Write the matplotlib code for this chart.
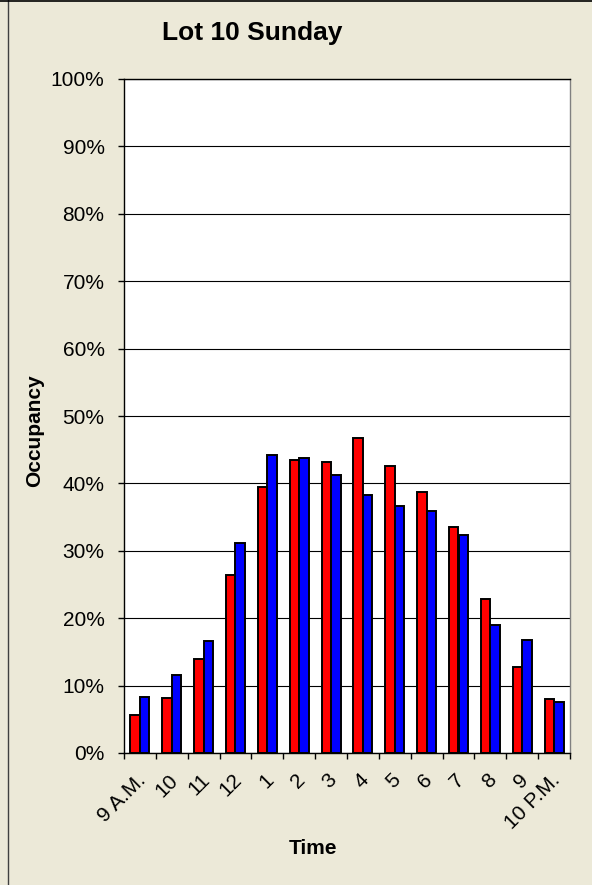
import matplotlib
matplotlib.use("Agg")
import matplotlib.pyplot as plt
import matplotlib.transforms as mtransforms
import numpy as np
from matplotlib.lines import Line2D

# Data
times = ["9 A.M.", "10", "11", "12", "1", "2", "3", "4", "5", "6", "7", "8", "9", "10 P.M."]
series_red = [5.6, 8.2, 13.9, 26.4, 39.4, 43.5, 43.2, 46.8, 42.6, 38.7, 33.6, 22.9, 12.7, 8.0]
series_blue = [8.3, 11.6, 16.6, 31.2, 44.2, 43.8, 41.2, 38.3, 36.7, 35.9, 32.3, 19.0, 16.7, 7.6]
yticks = list(range(0, 101, 10))
ytick_labels = [f"{v}%" for v in yticks]

W, H = 592, 885
bg = "#ECE9D8"
plt.rcParams["font.family"] = ["Liberation Sans", "DejaVu Sans"]

fig = plt.figure(figsize=(W / 100, H / 100), dpi=100, facecolor=bg)
ax = fig.add_axes([124 / W, 1 - 753 / H, 446 / W, 674 / H])
ax.set_facecolor("white")

x = np.arange(len(times))
bw = 0.30
ax.bar(x - bw / 2, series_red, width=bw, color="#FF0000", edgecolor="black", linewidth=1.4, zorder=3)
ax.bar(x + bw / 2, series_blue, width=bw, color="#0000FF", edgecolor="black", linewidth=1.4, zorder=3)

ax.set_xlim(-0.5, len(times) - 0.5)
ax.set_ylim(0, 100)
ax.set_yticks(yticks)
ax.set_yticklabels(ytick_labels, fontsize=15)
ax.yaxis.grid(True, color="black", linewidth=0.8, zorder=1)
ax.tick_params(axis="y", direction="out", length=4.5, width=1, pad=9.5, color="black")

ax.set_xticks(x)
ax.set_xticklabels(times, fontsize=15, rotation=45, ha="right", va="center", rotation_mode="anchor")
ax.tick_params(axis="x", which="major", length=0, pad=16)
ax.set_xticks(np.arange(-0.5, len(times), 1.0), minor=True)
ax.tick_params(axis="x", which="minor", direction="out", length=4.5, width=1, color="black")

offset = mtransforms.ScaledTranslation(3 / 100, -2 / 100, fig.dpi_scale_trans)
for lbl in ax.get_xticklabels():
    lbl.set_transform(lbl.get_transform() + offset)

for s in ["left", "bottom", "top"]:
    ax.spines[s].set_color("black")
    ax.spines[s].set_linewidth(1.0)
ax.spines["right"].set_color("#808080")
ax.spines["right"].set_linewidth(1.0)

fig.text(252 / W, 1 - 33 / H, "Lot 10 Sunday", fontsize=19, fontweight="bold", ha="center", va="center")
fig.text(35 / W, 1 - 431 / H, "Occupancy", fontsize=15, fontweight="bold", rotation=90, ha="center", va="center")
fig.text(313 / W, 1 - 849 / H, "Time", fontsize=15, fontweight="bold", ha="center", va="center")

# outer frame lines
fig.add_artist(Line2D([7.5 / W, 7.5 / W], [0, 1], transform=fig.transFigure, color="#404040", linewidth=1.0))
fig.add_artist(Line2D([0, 1], [1 - 1 / H, 1 - 1 / H], transform=fig.transFigure, color="black", linewidth=1.2))

fig.savefig("out.png", dpi=100, facecolor=bg)
